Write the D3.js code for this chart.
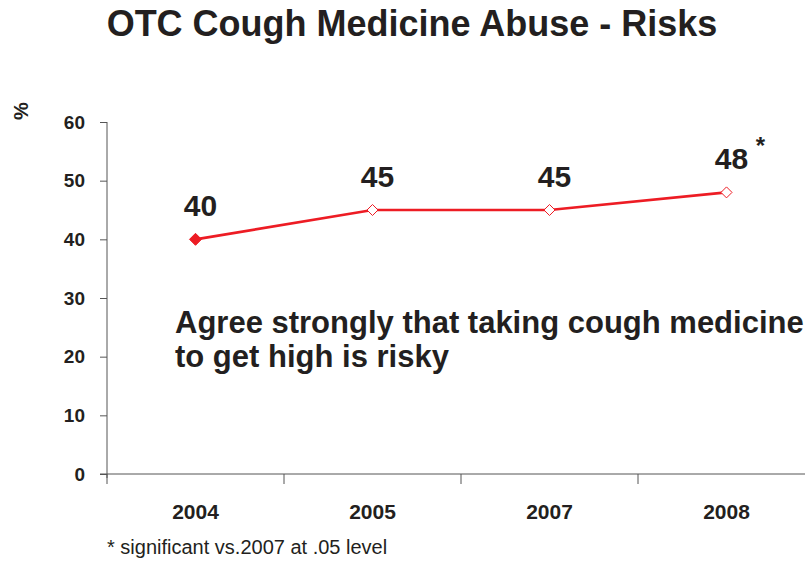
<!DOCTYPE html>
<html>
<head>
<meta charset="utf-8">
<script src="https://cdn.jsdelivr.net/npm/d3@7"></script>
<style>
  body { margin: 0; background: #fff; }
  text { font-family: "Liberation Sans", Arial, sans-serif; fill: #231f20; }
</style>
</head>
<body>
<div class="canvas"></div>
<script>
const WIDTH = 805;
const HEIGHT = 566;

// data
const years = ['2004', '2005', '2007', '2008'];
const agreeRisky = [40, 45, 45, 48];
const filledPoint = [true, false, false, false];
const yTicks = [0, 10, 20, 30, 40, 50, 60];

const svg = d3.select('.canvas')
  .append('svg')
    .attr('width', WIDTH)
    .attr('height', HEIGHT);

const x = d3.scaleBand()
  .domain(years)
  .range([107, 815]);

const y = d3.scaleLinear()
  .domain([0, 60])
  .range([474, 122]);

const red = '#ed1c24';
const axisColor = '#555';

// title
svg.append('text')
  .attr('x', 412)
  .attr('y', 36)
  .attr('text-anchor', 'middle')
  .attr('font-size', 36)
  .attr('font-weight', 'bold')
  .text('OTC Cough Medicine Abuse - Risks');

// y axis
const yAxisGroup = svg.append('g')
  .attr('transform', 'translate(107,0)')
  .call(d3.axisLeft(y).tickValues(yTicks).tickSize(7).tickPadding(15));

yAxisGroup.select('.domain')
  .attr('d', `M0,${y(60)}V${y(0) + 4}`);

yAxisGroup.selectAll('text')
  .attr('font-size', 19)
  .attr('font-weight', 'bold')
  .attr('fill', '#231f20');

// x axis, line runs to the page edge
const xAxisGroup = svg.append('g')
  .attr('transform', `translate(0,${y(0)})`)
  .call(d3.axisBottom(x).tickSize(0).tickPadding(30));

xAxisGroup.select('.domain')
  .attr('d', `M100,0H${WIDTH}`);

// band separators
xAxisGroup.selectAll('.sep')
  .data(years)
  .enter()
  .append('line')
    .attr('x1', d => x(d))
    .attr('x2', d => x(d))
    .attr('y1', 0)
    .attr('y2', 10);

xAxisGroup.selectAll('path, line')
  .attr('stroke', axisColor);

xAxisGroup.selectAll('text')
  .attr('font-size', 21)
  .attr('font-weight', 'bold')
  .attr('fill', '#231f20');

yAxisGroup.selectAll('path, line')
  .attr('stroke', axisColor);

// % label
svg.append('text')
  .attr('transform', 'translate(28,111) rotate(-90)')
  .attr('text-anchor', 'middle')
  .attr('font-size', 20)
  .attr('font-weight', 'bold')
  .text('%');

const cx = d => x(d) + x.bandwidth() / 2;

// line
const line = d3.line()
  .x((d, i) => cx(years[i]))
  .y(d => y(d));

svg.append('path')
  .datum(agreeRisky)
  .attr('d', line)
  .attr('fill', 'none')
  .attr('stroke', red)
  .attr('stroke-width', 2.7);

// markers
svg.selectAll('.marker')
  .data(agreeRisky)
  .enter()
  .append('path')
    .attr('class', 'marker')
    .attr('d', (d, i) => filledPoint[i] ? 'M0,-6L6,0L0,6L-6,0Z' : 'M0,-5.5L5.5,0L0,5.5L-5.5,0Z')
    .attr('transform', (d, i) => `translate(${cx(years[i])},${y(d)})`)
    .attr('fill', (d, i) => filledPoint[i] ? red : '#fff')
    .attr('stroke', red)
    .attr('stroke-width', 1);

// value labels
svg.selectAll('.val')
  .data(agreeRisky)
  .enter()
  .append('text')
    .attr('x', (d, i) => cx(years[i]) + 5)
    .attr('y', d => y(d) - 23)
    .attr('text-anchor', 'middle')
    .attr('font-size', 30)
    .attr('font-weight', 'bold')
    .text(d => d);

// significance star on last point
svg.append('text')
  .attr('x', cx(years[3]) + 34)
  .attr('y', y(agreeRisky[3]) - 38)
  .attr('text-anchor', 'middle')
  .attr('font-size', 24)
  .attr('font-weight', 'bold')
  .text('*');

// annotation
const note = svg.append('text')
  .attr('x', 175)
  .attr('y', 333)
  .attr('font-size', 31)
  .attr('font-weight', 'bold');
note.append('tspan').text('Agree strongly that taking cough medicine');
note.append('tspan').attr('x', 175).attr('dy', 34).text('to get high is risky');

// footnote
svg.append('text')
  .attr('x', 107)
  .attr('y', 554)
  .attr('font-size', 20)
  .text('* significant vs.2007 at .05 level');
</script>
</body>
</html>
